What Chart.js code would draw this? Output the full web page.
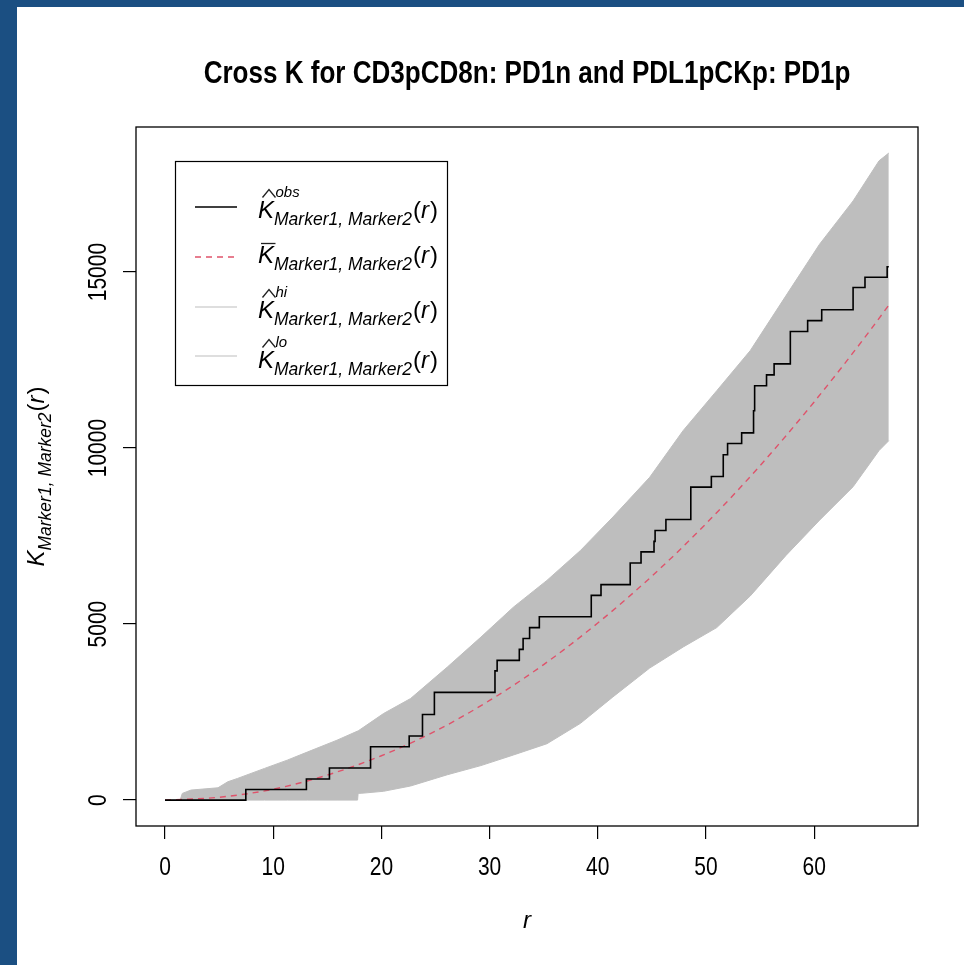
<!DOCTYPE html>
<html lang="en">
<head>
<meta charset="UTF-8">
<title>Cross K for CD3pCD8n: PD1n and PDL1pCKp: PD1p</title>
<style>
  html, body { margin: 0; padding: 0; background: #fff; }
  #wrap { position: relative; width: 964px; height: 965px; overflow: hidden; }
  .edge { position: absolute; background: #1b4f82; }
  #edgeLeft { left: 0; top: 0; width: 17px; height: 965px; }
  #edgeTop { left: 0; top: 0; width: 964px; height: 7px; }
  canvas { position: absolute; left: 0; top: 0; }
</style>
<script src="https://cdn.jsdelivr.net/npm/chart.js"></script>
</head>
<body>
<div id="wrap">
  <div class="edge" id="edgeLeft"></div>
  <div class="edge" id="edgeTop"></div>
  <canvas id="kChart" width="964" height="965"></canvas>
</div>
<script>
const obsR = [0, 7.47, 13.07, 15.2, 19.0, 22.57, 23.8, 24.9, 30.5, 30.7, 32.75, 33.1, 33.7, 34.6,
              39.4, 40.3, 43.0, 44.0, 45.2, 45.3, 46.3, 48.6, 50.5, 51.6, 52.0, 53.3, 54.4, 54.5,
              55.6, 56.3, 57.8, 59.4, 60.7, 63.6, 64.7, 66.75, 66.9];
const obsK = [0, 300, 600, 910, 1515, 1820, 2430, 3060, 3670, 3970, 4280, 4590, 4900, 5210,
              5815, 6120, 6735, 7050, 7350, 7660, 7970, 8890, 9190, 9810, 10130, 10430, 11060, 11770,
              12080, 12390, 13310, 13620, 13930, 14560, 14850, 15150, 15150];

// theoretical (red dashed)
const theoR = [0, 5, 10, 15, 20, 25, 30, 35, 40, 45, 50, 55, 60, 65, 66.9];
const theoK = [0, 80, 310, 710, 1260, 1960, 2830, 3850, 5030, 6360, 7850, 9500, 11310, 13270, 14060];

// simulation envelope (grey band)
const envR = [0, 1.4, 1.6, 2.4, 4.9, 5.8, 6.7, 9.2, 11.3, 13.2, 15.9, 17.8, 17.85, 18.4, 20.2, 22.7,
              26.1, 29.2, 32.2, 35.3, 38.4, 41.4, 44.8, 47.9, 51.0, 54.1, 57.4, 60.5, 63.6, 66.0, 66.9];
const hiK  = [0, 0, 190, 284, 350, 520, 615, 900, 1135, 1370, 1702, 1960, 1965, 2080, 2459, 2885,
              3780, 4630, 5480, 6240, 7090, 8040, 9170, 10500, 11630, 12770, 14330, 15790, 17020, 18160, 18380];
const loK  = [0, 0, 0, 0, 0, 0, 0, 0, 0, 0, 0, 0, 190, 200, 250, 400,
              720, 980, 1280, 1600, 2180, 2930, 3750, 4350, 4900, 5800, 6950, 7950, 8900, 9930, 10210];

const xTicks = [0, 10, 20, 30, 40, 50, 60];
const yTicks = [0, 5000, 10000, 15000];

const FONT = '"Liberation Sans", Arial, Helvetica, sans-serif';
const CONDENSE = 0.84;

function pairs(xs, ys) {
    return xs.map((x, i) => ({ x: x, y: ys[i] }));
}

// K with accent / super / subscript, then (r) -- drawn in local coords
function drawKExpr(ctx, accent, sup) {
    const base = 24, sub = 17.5, supSize = 15;
    ctx.font = 'italic ' + base + 'px ' + FONT;
    ctx.fillText('K', 0, 0);
    const kw = ctx.measureText('K').width;
    ctx.lineWidth = 1.3;
    ctx.strokeStyle = '#222';
    if (accent === 'hat') {
        ctx.beginPath();
        ctx.moveTo(4.5, -20.5);
        ctx.lineTo(11, -28.5);
        ctx.lineTo(17.5, -20.5);
        ctx.stroke();
    } else if (accent === 'bar') {
        ctx.beginPath();
        ctx.moveTo(3, -19.5);
        ctx.lineTo(17.5, -19.5);
        ctx.stroke();
    }
    let supW = 0;
    if (sup) {
        ctx.font = 'italic ' + supSize + 'px ' + FONT;
        ctx.fillText(sup, kw + 1.5, -21);
        supW = ctx.measureText(sup).width + 2;
    }
    ctx.font = 'italic ' + sub + 'px ' + FONT;
    ctx.fillText('Marker1, Marker2', kw, 7);
    const subW = ctx.measureText('Marker1, Marker2').width;
    let x = kw + Math.max(subW, supW) + 1;
    ctx.font = base + 'px ' + FONT;
    ctx.fillText('(', x, 0);
    x += ctx.measureText('(').width;
    ctx.font = 'italic ' + base + 'px ' + FONT;
    ctx.fillText('r', x, 0);
    x += ctx.measureText('r').width + 1;
    ctx.font = base + 'px ' + FONT;
    ctx.fillText(')', x, 0);
    x += ctx.measureText(')').width;
    return x;
}

function narrowText(ctx, str, x, y, font, rot) {
    ctx.save();
    ctx.translate(x, y);
    if (rot) ctx.rotate(rot);
    ctx.scale(CONDENSE, 1);
    ctx.font = font;
    ctx.textAlign = 'center';
    ctx.fillText(str, 0, 0);
    ctx.restore();
}

const decorPlugin = {
    id: 'decor',
    afterDraw(chart) {
        const ctx = chart.ctx;
        const a = chart.chartArea;
        const xs = chart.scales.x, ys = chart.scales.y;
        ctx.save();
        ctx.fillStyle = '#000';
        ctx.strokeStyle = '#000';

        // plot box
        ctx.lineWidth = 1.3;
        ctx.strokeRect(a.left, a.top, a.right - a.left, a.bottom - a.top);

        // title
        narrowText(ctx, 'Cross K for CD3pCD8n: PD1n and PDL1pCKp: PD1p', (a.left + a.right) / 2, 83,
                   'bold 31px ' + FONT, 0);

        // tick labels
        xTicks.forEach(v => narrowText(ctx, String(v), xs.getPixelForValue(v), 875, '25px ' + FONT, 0));
        yTicks.forEach(v => narrowText(ctx, String(v), 106, ys.getPixelForValue(v), '25px ' + FONT, -Math.PI / 2));

        // x title
        ctx.font = 'italic 24px ' + FONT;
        ctx.textAlign = 'center';
        ctx.fillText('r', (a.left + a.right) / 2, 928);
        ctx.textAlign = 'left';

        // y title (rotated)
        ctx.save();
        ctx.translate(44, (a.top + a.bottom) / 2);
        ctx.rotate(-Math.PI / 2);
        ctx.globalAlpha = 0;
        const w = drawKExpr(ctx, null, null);
        ctx.globalAlpha = 1;
        ctx.translate(-w / 2, 0);
        drawKExpr(ctx, null, null);
        ctx.restore();

        // legend
        ctx.lineWidth = 1.2;
        ctx.strokeStyle = '#000';
        ctx.strokeRect(175.5, 161.5, 272, 224);
        const entries = [
            { y: 207, base: 218, color: '#000', dash: [], width: 1.6, accent: 'hat', sup: 'obs' },
            { y: 257, base: 263, color: '#DF536B', dash: [6, 5], width: 1.4, accent: 'bar', sup: null },
            { y: 307, base: 318, color: '#BEBEBE', dash: [], width: 1.2, accent: 'hat', sup: 'hi' },
            { y: 356, base: 368, color: '#BEBEBE', dash: [], width: 1.2, accent: 'hat', sup: 'lo' }
        ];
        entries.forEach(e => {
            ctx.save();
            ctx.strokeStyle = e.color;
            ctx.lineWidth = e.width;
            ctx.setLineDash(e.dash);
            ctx.beginPath();
            ctx.moveTo(195, e.y);
            ctx.lineTo(237, e.y);
            ctx.stroke();
            ctx.restore();
            ctx.save();
            ctx.translate(258, e.base);
            drawKExpr(ctx, e.accent, e.sup);
            ctx.restore();
        });
        ctx.restore();
    }
};

new Chart(document.getElementById('kChart'), {
    type: 'line',
    data: {
        datasets: [
            {
                label: 'obs',
                data: pairs(obsR, obsK),
                borderColor: '#000',
                borderWidth: 1.6,
                stepped: 'before',
                pointRadius: 0,
                fill: false,
                order: 1
            },
            {
                label: 'theo',
                data: pairs(theoR, theoK),
                borderColor: '#DF536B',
                borderWidth: 1.4,
                borderDash: [6, 5],
                cubicInterpolationMode: 'monotone',
                pointRadius: 0,
                fill: false,
                order: 2
            },
            {
                label: 'hi',
                data: pairs(envR, hiK),
                borderColor: '#BEBEBE',
                borderWidth: 1,
                backgroundColor: '#BEBEBE',
                pointRadius: 0,
                fill: '+1',
                order: 3
            },
            {
                label: 'lo',
                data: pairs(envR, loK),
                borderColor: '#BEBEBE',
                borderWidth: 1,
                pointRadius: 0,
                fill: false,
                order: 4
            }
        ]
    },
    options: {
        responsive: false,
        animation: false,
        events: [],
        layout: { padding: { left: 0, top: 127, right: 46, bottom: 0 } },
        plugins: {
            legend: { display: false },
            tooltip: { enabled: false },
            title: { display: false }
        },
        scales: {
            x: {
                type: 'linear',
                min: -2.68,
                max: 69.6,
                afterBuildTicks: s => { s.ticks = xTicks.map(v => ({ value: v })); },
                afterFit: s => { s.height = 139; },
                ticks: { display: false },
                border: { display: false },
                grid: { drawOnChartArea: false, drawTicks: true, tickLength: 13, color: '#000', lineWidth: 1.2 }
            },
            y: {
                type: 'linear',
                min: -736,
                max: 19120,
                afterBuildTicks: s => { s.ticks = yTicks.map(v => ({ value: v })); },
                afterFit: s => { s.width = 136; },
                ticks: { display: false },
                border: { display: false },
                grid: { drawOnChartArea: false, drawTicks: true, tickLength: 13, color: '#000', lineWidth: 1.2 }
            }
        }
    },
    plugins: [decorPlugin]
});
</script>
</body>
</html>
